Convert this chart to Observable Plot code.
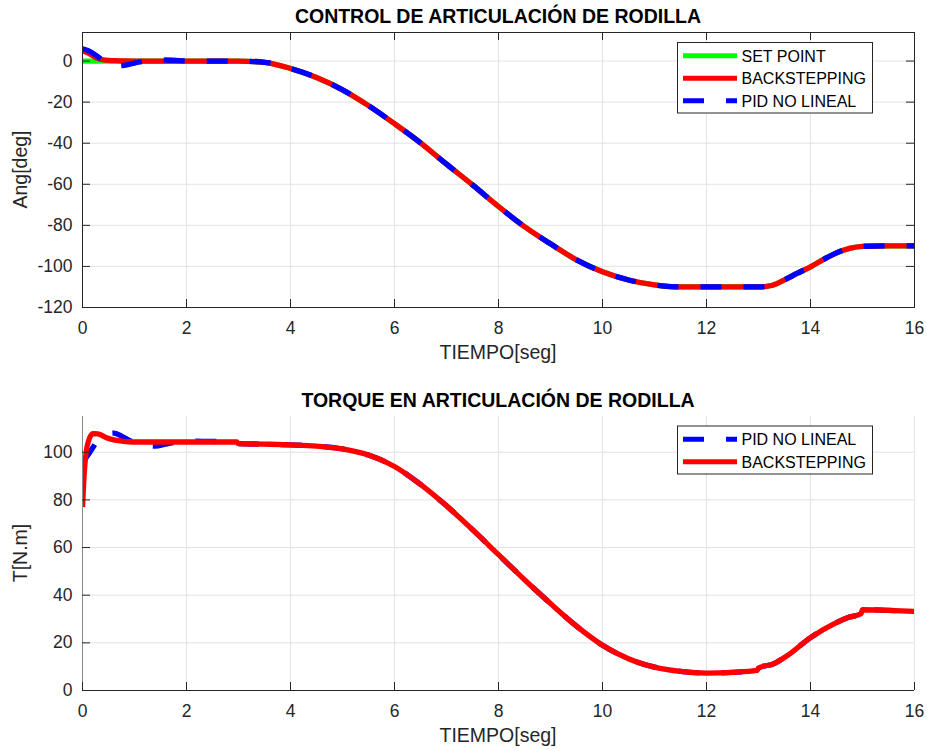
<!DOCTYPE html>
<html><head><meta charset="utf-8">
<script src="https://cdn.jsdelivr.net/npm/d3@7"></script>
<script src="https://cdn.jsdelivr.net/npm/@observablehq/plot@0.6"></script>
<style>
html,body{margin:0;padding:0;background:#fff;}
#chart{width:927px;height:751px;position:relative;overflow:hidden;background:#fff;}
svg{display:block;}
</style></head><body><div id="chart"></div>
<script>
// ---- tick values ----
const xTicks = [0, 2, 4, 6, 8, 10, 12, 14, 16];
const angTicks = [-120, -100, -80, -60, -40, -20, 0];
const torqueTicks = [0, 20, 40, 60, 80, 100];

// ---- labels ----
const titleAng = "CONTROL DE ARTICULACIÓN DE RODILLA";
const titleTorque = "TORQUE EN ARTICULACIÓN DE RODILLA";
const xLabel = "TIEMPO[seg]";
const yLabelAng = "Ang[deg]";
const yLabelTorque = "T[N.m]";
const legendAng = ["SET POINT", "BACKSTEPPING", "PID NO LINEAL"];
const legendTorque = ["PID NO LINEAL", "BACKSTEPPING"];

// ---- angle data (deg) ----
const tAng = [0, 0.1, 0.2, 0.3, 0.4, 0.5, 0.6, 0.7, 0.8, 1.0,
  1.2, 1.4, 1.6, 1.8, 2.0, 2.5, 3.0,
  3.5, 4.0, 4.5, 5.0, 5.5, 6.0, 6.5, 7.0, 7.5, 8.0,
  8.5, 9.0, 9.5, 10.0, 10.5, 11.0, 11.5, 12.0, 12.5, 13.0,
  13.25, 13.5, 13.75, 14.0, 14.25, 14.5, 14.75, 15.0, 15.5, 16.0];
const angSetPoint = [0, 0, 0, 0, 0, 0, 0, 0, 0, 0,
  0, 0, 0, 0, 0, 0, 0,
  -0.6, -3.6, -8, -14, -21.7, -30.5, -39.8, -50.2, -60.3, -70.8,
  -80.6, -89, -96.8, -102.6, -106.6, -109, -110, -110, -110, -110,
  -109.3, -106.5, -103.3, -100.2, -96.6, -93.4, -91.2, -90.2, -90, -90];
const angBackstepping = [5, 4, 2.5, 1.2, 0.6, 0.3, 0.2, 0.1, 0.05, 0,
  0, 0, 0, 0, 0, 0, 0,
  -0.6, -3.6, -8, -14, -21.7, -30.5, -39.8, -50.2, -60.3, -70.8,
  -80.6, -89, -96.8, -102.6, -106.6, -109, -110, -110, -110, -110,
  -109.3, -106.5, -103.3, -100.2, -96.6, -93.4, -91.2, -90.2, -90, -90];
const angPid = [6, 5.2, 3.8, 2.0, 0.3, -1.0, -1.9, -2.3, -2.1, -1.0,
  0, 0.4, 0.5, 0.3, 0.1, 0, 0,
  -0.6, -3.6, -8, -14, -21.7, -30.5, -39.8, -50.2, -60.3, -70.8,
  -80.6, -89, -96.8, -102.6, -106.6, -109, -110, -110, -110, -110,
  -109.3, -106.5, -103.3, -100.2, -96.6, -93.4, -91.2, -90.2, -90, -90];

// ---- torque data (N.m) ----
const tTorque = [0, 0.03, 0.07, 0.12, 0.2, 0.3, 0.45, 0.6, 0.75, 0.9,
  1.05, 1.2, 1.4, 1.6, 1.8, 2.0, 2.3, 2.97, 3.0, 3.5,
  4.0, 4.5, 5.0, 5.5, 6.0, 6.5, 7.0, 7.5, 8.0, 8.5,
  9.0, 9.5, 10.0, 10.5, 11.0, 11.5, 12.0, 12.5, 12.97, 13.0,
  13.3, 13.55, 14.0, 14.45, 14.75, 14.97, 15.0, 15.5, 16.0];
const torquePid = [96, 96.8, 97.8, 99.3, 102, 105, 107.5, 108, 106.8, 105,
  103.6, 102.8, 102.6, 103.4, 104.2, 104.7, 104.6, 104.3, 103.6, 103.4,
  103.1, 102.6, 101.4, 98.8, 94, 86.5, 77.5, 67.5, 57, 46.5,
  36.5, 27, 19, 13.3, 9.8, 8, 7.3, 7.6, 8.4, 9.4,
  11.3, 14.6, 22.2, 28, 30.8, 32.2, 33.9, 33.6, 33.2];
const torqueBackstepping = [77, 90, 100, 105, 107.8, 107.7, 106.2, 105.2, 104.7, 104.4,
  104.3, 104.3, 104.3, 104.3, 104.3, 104.3, 104.3, 104.3, 103.6, 103.4,
  103.1, 102.6, 101.4, 98.8, 94, 86.5, 77.5, 67.5, 57, 46.5,
  36.5, 27, 19, 13.3, 9.8, 8, 7.3, 7.6, 8.4, 9.4,
  11.3, 14.6, 22.2, 28, 30.8, 32.2, 33.9, 33.6, 33.2];

// ---- styling ----
const FONT = "'Liberation Sans', Arial, Helvetica, sans-serif";
const AX = "#262626";
const GRID = "#e3e3e3";
const W = 927, ML = 82, MR = 13;
const FW = W - ML - MR;
const LW = 5.3;
const DASH = "21,22";
const GREEN = "#00ff00", RED = "#ff0000", BLUE = "#0000ff";

function zip(t, v) { return t.map((x, i) => ({t: x, v: v[i]})); }

function panel({height, mt, mb, yDomain, yTicks, series, boxed}) {
  const fh = height - mt - mb;
  const marks = [
    Plot.gridX(xTicks, {stroke: GRID, strokeOpacity: 1, strokeWidth: 1}),
    Plot.gridY(yTicks, {stroke: GRID, strokeOpacity: 1, strokeWidth: 1}),
    ...series.map(s => Plot.line(zip(s.t, s.v), {
      x: "t", y: "v", stroke: s.color, strokeWidth: LW,
      strokeDasharray: s.dash, strokeLinecap: "butt", strokeLinejoin: "round",
      curve: "monotone-x", clip: true
    })),
  ];
  if (boxed) {
    marks.push(Plot.frame({stroke: AX, strokeWidth: 1}));
    marks.push(Plot.ruleX(xTicks, {insetBottom: fh - 8, stroke: AX}));
    marks.push(Plot.ruleY(yTicks, {insetLeft: FW - 8, stroke: AX}));
  } else {
    marks.push(Plot.ruleX([0], {stroke: "#8a8a8a", strokeWidth: 1}));
    marks.push(Plot.ruleY([yDomain[0]], {stroke: AX, strokeWidth: 1}));
  }
  marks.push(Plot.ruleX(xTicks, {insetTop: fh - 8, stroke: AX}));
  marks.push(Plot.ruleY(yTicks, {insetRight: FW - 8, stroke: AX}));
  marks.push(Plot.axisX(xTicks, {tickSize: 0, tickPadding: 14.5, tickFormat: d => String(d), label: null, fontSize: 17.5, fill: AX}));
  marks.push(Plot.axisY(yTicks, {tickSize: 0, tickPadding: 10, tickFormat: d => String(d), label: null, fontSize: 17.5, fill: AX}));
  return Plot.plot({
    width: W, height,
    marginLeft: ML, marginRight: MR, marginTop: mt, marginBottom: mb,
    x: {domain: [0, 16]},
    y: {domain: yDomain},
    style: {fontFamily: FONT, fontSize: "17.5px", color: AX, background: "#fff", overflow: "visible"},
    marks
  });
}

function decorate(svgNode, {mt, fh, title, ylabel, legend}) {
  const svg = d3.select(svgNode);
  const cx = ML + FW / 2;
  svg.append("text").attr("x", cx).attr("y", mt - 15.6 + 7)
    .attr("text-anchor", "middle").attr("font-family", FONT).attr("font-weight", "bold")
    .attr("font-size", 19.5).attr("fill", "#000").text(title);
  svg.append("text").attr("x", cx).attr("y", mt + fh + 52)
    .attr("text-anchor", "middle").attr("font-family", FONT)
    .attr("font-size", 19.5).attr("fill", AX).text(xLabel);
  svg.append("text").attr("transform", `translate(26.7,${mt + fh / 2}) rotate(-90)`)
    .attr("text-anchor", "middle").attr("font-family", FONT)
    .attr("font-size", 19.5).attr("fill", AX).text(ylabel);
  const g = svg.append("g");
  const {x, y, w, rows} = legend;
  const rowH = 22.5;
  const h = rows.length * rowH + 3;
  g.append("rect").attr("x", x).attr("y", y).attr("width", w).attr("height", h)
    .attr("fill", "#fff").attr("stroke", AX).attr("stroke-width", 1);
  rows.forEach((r, i) => {
    const ry = y + 13.2 + i * rowH;
    g.append("line").attr("x1", x + 5.5).attr("x2", x + 59.5).attr("y1", ry).attr("y2", ry)
      .attr("stroke", r.color).attr("stroke-width", 5).attr("stroke-linecap", "butt")
      .attr("stroke-dasharray", r.dash || null);
    g.append("text").attr("x", x + 64).attr("y", ry + 5.8).attr("font-family", FONT)
      .attr("text-anchor", "start")
      .attr("font-size", 16).attr("fill", "#000").text(r.label);
  });
}

const chart = document.getElementById("chart");

// ---- top panel ----
const H1 = 375, MT1 = 32, MB1 = 68;
const p1 = panel({
  height: H1, mt: MT1, mb: MB1, yDomain: [-120, 13.9], yTicks: angTicks, boxed: true,
  series: [
    {t: tAng, v: angSetPoint, color: GREEN},
    {t: tAng, v: angBackstepping, color: RED},
    {t: tAng, v: angPid, color: BLUE, dash: DASH}
  ]
});
decorate(p1, {mt: MT1, fh: H1 - MT1 - MB1, title: titleAng, ylabel: yLabelAng,
  legend: {x: 677.5, y: 42.5, w: 195, rows: [
    {label: legendAng[0], color: GREEN},
    {label: legendAng[1], color: RED},
    {label: legendAng[2], color: BLUE, dash: DASH}
  ]}});
chart.appendChild(p1);

// ---- bottom panel ----
const H2 = 376, MT2 = 41, MB2 = 61;
const p2 = panel({
  height: H2, mt: MT2, mb: MB2, yDomain: [0, 115], yTicks: torqueTicks, boxed: false,
  series: [
    {t: tTorque, v: torquePid, color: BLUE, dash: DASH},
    {t: tTorque, v: torqueBackstepping, color: RED}
  ]
});
decorate(p2, {mt: MT2, fh: H2 - MT2 - MB2, title: titleTorque, ylabel: yLabelTorque,
  legend: {x: 677.5, y: 51, w: 195, rows: [
    {label: legendTorque[0], color: BLUE, dash: DASH},
    {label: legendTorque[1], color: RED}
  ]}});
chart.appendChild(p2);
</script>
</body></html>
